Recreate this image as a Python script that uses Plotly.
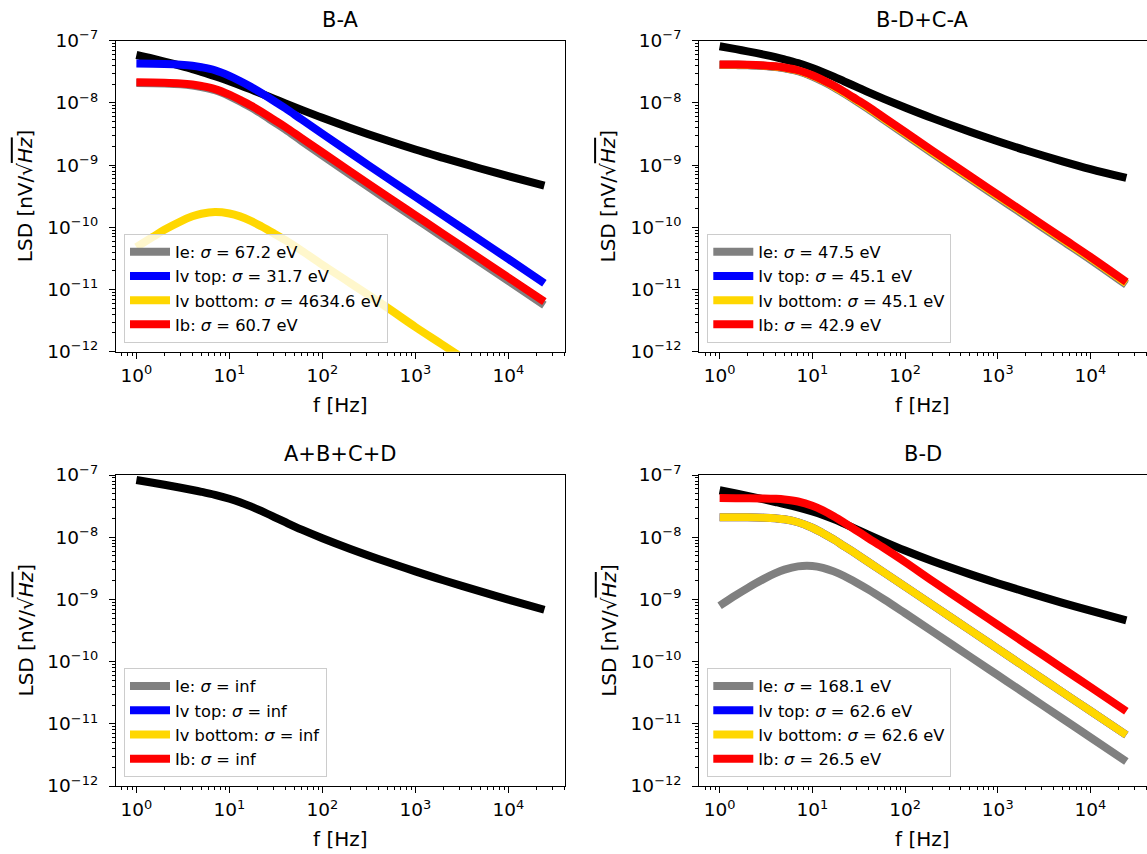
import plotly.graph_objects as go

FONT = "DejaVu Sans"

# ---------------- data ----------------
freq = [1, 1.5, 2, 3, 4, 5, 7, 10, 13, 17, 22, 30, 40, 60, 100, 200, 500, 1000, 2000, 5000, 10000, 24400]

# B-A
ba_total = [5.89e-8, 5.13e-8, 4.62e-8, 3.94e-8, 3.50e-8, 3.16e-8, 2.69e-8, 2.23e-8, 1.93e-8, 1.65e-8, 1.41e-8,
            1.17e-8, 9.82e-9, 7.73e-9, 5.77e-9, 3.96e-9, 2.48e-9, 1.78e-9, 1.31e-9, 8.81e-10, 6.64e-10, 4.69e-10]
ba_ie = [2.08e-8, 2.07e-8, 2.05e-8, 1.99e-8, 1.9e-8, 1.8e-8, 1.6e-8, 1.29e-8, 1.05e-8, 8.5e-9, 6.7e-9,
         4.95e-9, 3.73e-9, 2.43e-9, 1.43e-9, 7.0e-10, 2.76e-10, 1.38e-10, 6.9e-11, 2.75e-11, 1.38e-11, 5.6e-12]
ba_ivtop = [4.28e-8, 4.26e-8, 4.22e-8, 4.1e-8, 3.95e-8, 3.75e-8, 3.35e-8, 2.72e-8, 2.25e-8, 1.82e-8, 1.45e-8,
            1.08e-8, 8.2e-9, 5.4e-9, 3.2e-9, 1.57e-9, 6.2e-10, 3.1e-10, 1.55e-10, 6.2e-11, 3.1e-11, 1.26e-11]
ba_ivbot = [4.8e-11, 7.0e-11, 9.1e-11, 1.25e-10, 1.5e-10, 1.65e-10, 1.76e-10, 1.67e-10, 1.5e-10, 1.27e-10, 1.04e-10,
            8.0e-11, 6.2e-11, 4.2e-11, 2.5e-11, 1.27e-11, 5.1e-12, 2.5e-12, 1.27e-12, 5.1e-13, 2.5e-13, 1.04e-13]
ba_ib = [2.14e-8, 2.13e-8, 2.11e-8, 2.05e-8, 1.97e-8, 1.87e-8, 1.67e-8, 1.36e-8, 1.12e-8, 9.1e-9, 7.25e-9,
         5.4e-9, 4.1e-9, 2.7e-9, 1.6e-9, 7.9e-10, 3.12e-10, 1.56e-10, 7.8e-11, 3.12e-11, 1.56e-11, 6.4e-12]
ba_sigma = ["67.2", "31.7", "4634.6", "60.7"]

# B-D+C-A
dbca_total = [8.13e-8, 7.31e-8, 6.75e-8, 5.97e-8, 5.43e-8, 5.00e-8, 4.35e-8, 3.63e-8, 3.12e-8, 2.64e-8, 2.22e-8,
              1.81e-8, 1.49e-8, 1.15e-8, 8.43e-9, 5.64e-9, 3.44e-9, 2.42e-9, 1.73e-9, 1.15e-9, 8.63e-10, 6.21e-10]
dbca_ie = [4.07e-8, 4.05e-8, 4.02e-8, 3.91e-8, 3.77e-8, 3.59e-8, 3.23e-8, 2.66e-8, 2.21e-8, 1.79e-8, 1.42e-8,
           1.06e-8, 8.0e-9, 5.25e-9, 3.1e-9, 1.53e-9, 6.05e-10, 3.02e-10, 1.51e-10, 6.03e-11, 3.02e-11, 1.19e-11]
dbca_ivtop = [4.11e-8, 4.09e-8, 4.06e-8, 3.96e-8, 3.82e-8, 3.65e-8, 3.3e-8, 2.72e-8, 2.27e-8, 1.84e-8, 1.46e-8,
              1.1e-8, 8.3e-9, 5.48e-9, 3.25e-9, 1.6e-9, 6.35e-10, 3.18e-10, 1.6e-10, 6.36e-11, 3.18e-11, 1.25e-11]
dbca_ivbot = [4.11e-8, 4.09e-8, 4.06e-8, 3.96e-8, 3.82e-8, 3.65e-8, 3.3e-8, 2.72e-8, 2.27e-8, 1.84e-8, 1.46e-8,
              1.1e-8, 8.3e-9, 5.48e-9, 3.25e-9, 1.6e-9, 6.35e-10, 3.18e-10, 1.6e-10, 6.36e-11, 3.18e-11, 1.25e-11]
dbca_ib = [4.15e-8, 4.13e-8, 4.1e-8, 4.0e-8, 3.87e-8, 3.7e-8, 3.35e-8, 2.78e-8, 2.33e-8, 1.9e-8, 1.52e-8,
           1.14e-8, 8.7e-9, 5.75e-9, 3.42e-9, 1.69e-9, 6.7e-10, 3.35e-10, 1.68e-10, 6.7e-11, 3.35e-11, 1.32e-11]
dbca_sigma = ["47.5", "45.1", "45.1", "42.9"]

# A+B+C+D (only the total is non-zero)
abcd_total = [8.32e-8, 7.52e-8, 6.97e-8, 6.25e-8, 5.75e-8, 5.37e-8, 4.79e-8, 4.15e-8, 3.66e-8, 3.13e-8, 2.64e-8,
              2.13e-8, 1.74e-8, 1.32e-8, 9.62e-9, 6.47e-9, 3.98e-9, 2.82e-9, 2.03e-9, 1.35e-9, 9.93e-10, 6.82e-10]
abcd_ie = [0, 0, 0, 0, 0, 0, 0, 0, 0, 0, 0, 0, 0, 0, 0, 0, 0, 0, 0, 0, 0, 0]
abcd_ivtop = [0, 0, 0, 0, 0, 0, 0, 0, 0, 0, 0, 0, 0, 0, 0, 0, 0, 0, 0, 0, 0, 0]
abcd_ivbot = [0, 0, 0, 0, 0, 0, 0, 0, 0, 0, 0, 0, 0, 0, 0, 0, 0, 0, 0, 0, 0, 0]
abcd_ib = [0, 0, 0, 0, 0, 0, 0, 0, 0, 0, 0, 0, 0, 0, 0, 0, 0, 0, 0, 0, 0, 0]
abcd_sigma = ["inf", "inf", "inf", "inf"]

# B-D
bd_total = [5.69e-8, 5.04e-8, 4.60e-8, 4.05e-8, 3.68e-8, 3.41e-8, 3.01e-8, 2.59e-8, 2.28e-8, 1.95e-8, 1.65e-8,
            1.34e-8, 1.10e-8, 8.41e-9, 6.10e-9, 4.10e-9, 2.55e-9, 1.82e-9, 1.32e-9, 8.81e-10, 6.59e-10, 4.61e-10]
bd_ie = [7.9e-10, 1.17e-9, 1.52e-9, 2.14e-9, 2.64e-9, 3.01e-9, 3.40e-9, 3.45e-9, 3.22e-9, 2.82e-9, 2.38e-9,
         1.86e-9, 1.45e-9, 9.9e-10, 6.0e-10, 3.02e-10, 1.21e-10, 6.05e-11, 3.03e-11, 1.21e-11, 6.05e-12, 2.48e-12]
bd_ivtop = [2.1e-8, 2.09e-8, 2.09e-8, 2.06e-8, 2.01e-8, 1.94e-8, 1.74e-8, 1.42e-8, 1.16e-8, 9.2e-9, 7.2e-9,
            5.34e-9, 4.02e-9, 2.68e-9, 1.61e-9, 8.05e-10, 3.22e-10, 1.61e-10, 8.05e-11, 3.22e-11, 1.61e-11, 6.6e-12]
bd_ivbot = [2.1e-8, 2.09e-8, 2.09e-8, 2.06e-8, 2.01e-8, 1.94e-8, 1.74e-8, 1.42e-8, 1.16e-8, 9.2e-9, 7.2e-9,
            5.34e-9, 4.02e-9, 2.68e-9, 1.61e-9, 8.05e-10, 3.22e-10, 1.61e-10, 8.05e-11, 3.22e-11, 1.61e-11, 6.6e-12]
bd_ib = [4.25e-8, 4.24e-8, 4.23e-8, 4.2e-8, 4.14e-8, 4.04e-8, 3.75e-8, 3.21e-8, 2.70e-8, 2.17e-8, 1.72e-8,
         1.28e-8, 9.7e-9, 6.6e-9, 4.0e-9, 1.96e-9, 7.8e-10, 3.9e-10, 1.95e-10, 7.8e-11, 3.9e-11, 1.59e-11]
bd_sigma = ["168.1", "62.6", "62.6", "26.5"]

component_names = ["Ie", "Iv top", "Iv bottom", "Ib"]
component_colors = ["#808080", "#0000ff", "#ffd700", "#ff0000"]
titles = ["B-A", "B-D+C-A", "A+B+C+D", "B-D"]

x_tickvals = [1, 10, 100, 1000, 10000]
x_ticktext = ["10<sup>0</sup>", "10<sup>1</sup>", "10<sup>2</sup>", "10<sup>3</sup>", "10<sup>4</sup>"]
y_tickvals = [1e-12, 1e-11, 1e-10, 1e-9, 1e-8, 1e-7]
y_ticktext = ["10<sup>\u221212</sup>", "10<sup>\u221211</sup>", "10<sup>\u221210</sup>",
              "10<sup>\u22129</sup>", "10<sup>\u22128</sup>", "10<sup>\u22127</sup>"]

# ---------------- layout geometry (px in a 1147x854 canvas) ----------------
W, H = 1147, 854
col_px = [(116.0, 564.7), (699.3, 1146.6)]
row_px = [(40.7, 351.7), (475.0, 786.0)]
XRANGE = [-0.2193, 4.606]
YRANGE = [-12, -7]

minor_x = [k * 10.0 ** d for d in range(-1, 5) for k in range(2, 10)]
minor_y = [k * 10.0 ** d for d in range(-12, -7) for k in range(2, 10)]

panels = [
    (ba_total, [ba_ie, ba_ivtop, ba_ivbot, ba_ib], ba_sigma),
    (dbca_total, [dbca_ie, dbca_ivtop, dbca_ivbot, dbca_ib], dbca_sigma),
    (abcd_total, [abcd_ie, abcd_ivtop, abcd_ivbot, abcd_ib], abcd_sigma),
    (bd_total, [bd_ie, bd_ivtop, bd_ivbot, bd_ib], bd_sigma),
]

fig = go.Figure()
LW = 8
annotations = []
layout_extra = {}

for i, (total, comps, sig) in enumerate(panels):
    r, c = divmod(i, 2)
    sfx = "" if i == 0 else str(i + 1)
    xa, ya = "x" + sfx, "y" + sfx
    leg = "legend" + sfx
    fig.add_trace(go.Scatter(x=freq, y=total, mode="lines", xaxis=xa, yaxis=ya,
                             line=dict(color="black", width=LW, shape="spline", smoothing=1.0),
                             showlegend=False, hoverinfo="skip"))
    for j, (vals, nm, col) in enumerate(zip(comps, component_names, component_colors)):
        label = f"{nm}: <i>\u03c3</i> = {sig[j]}" + ("" if sig[j] == "inf" else " eV")
        fig.add_trace(go.Scatter(x=freq, y=vals, mode="lines", xaxis=xa, yaxis=ya,
                                 line=dict(color=col, width=LW, shape="spline", smoothing=1.0),
                                 name=label, legend=leg, showlegend=True))
    x0, x1 = col_px[c]
    y0, y1 = row_px[r]
    common = dict(type="log", showline=True, linecolor="black", linewidth=1.3, mirror=True,
                  ticks="outside", ticklen=6, tickwidth=1.3, tickcolor="black",
                  showgrid=False, zeroline=False, automargin=False, tickmode="array",
                  tickfont=dict(family=FONT, size=18.5, color="black"))
    layout_extra["xaxis" + sfx] = dict(common, domain=[x0 / W, x1 / W], range=XRANGE,
                                       anchor=ya, tickvals=x_tickvals, ticktext=x_ticktext,
                                       ticklabelstandoff=1,
                                       minor=dict(ticks="outside", ticklen=3.3, tickwidth=1,
                                                  tickcolor="black", tickvals=minor_x, showgrid=False))
    layout_extra["yaxis" + sfx] = dict(common, domain=[1 - y1 / H, 1 - y0 / H], range=YRANGE,
                                       anchor=xa, tickvals=y_tickvals, ticktext=y_ticktext,
                                       ticklabelstandoff=7,
                                       minor=dict(ticks="outside", ticklen=3.3, tickwidth=1,
                                                  tickcolor="black", tickvals=minor_y, showgrid=False))
    layout_extra[leg] = dict(x=(x0 + 8) / W, y=1 - (y1 - 9) / H, xanchor="left", yanchor="bottom",
                             bgcolor="rgba(255,255,255,0.8)", bordercolor="#cccccc", borderwidth=1,
                             font=dict(family=FONT, size=16.3, color="black"), tracegroupgap=0,
                             itemwidth=40)
    xc = (x0 + x1) / 2
    annotations.append(dict(text=titles[i], x=xc / W, y=1 - (y0 - 21) / H, xref="paper", yref="paper",
                            xanchor="center", yanchor="middle", showarrow=False,
                            font=dict(family=FONT, size=21, color="black")))
    annotations.append(dict(text="f [Hz]", x=xc / W, y=1 - (y1 + 53) / H, xref="paper", yref="paper",
                            xanchor="center", yanchor="middle", showarrow=False,
                            font=dict(family=FONT, size=20, color="black")))
    annotations.append(dict(text="LSD [nV/\u221a<span style='text-decoration:overline'><i>Hz</i></span>]",
                            x=(x0 - 91) / W, y=1 - ((y0 + y1) / 2) / H, xref="paper", yref="paper",
                            xanchor="center", yanchor="middle", textangle=-90, showarrow=False,
                            font=dict(family=FONT, size=20, color="black")))

fig.update_layout(width=W, height=H, margin=dict(l=0, r=0, t=0, b=0), autosize=False,
                  paper_bgcolor="white", plot_bgcolor="white",
                  font=dict(family=FONT, size=16.7, color="black"),
                  showlegend=True, annotations=annotations, **layout_extra)

fig.write_html("out.html", config={"displayModeBar": False},
               post_script="document.body.style.margin='0px';document.body.style.overflow='hidden';")
